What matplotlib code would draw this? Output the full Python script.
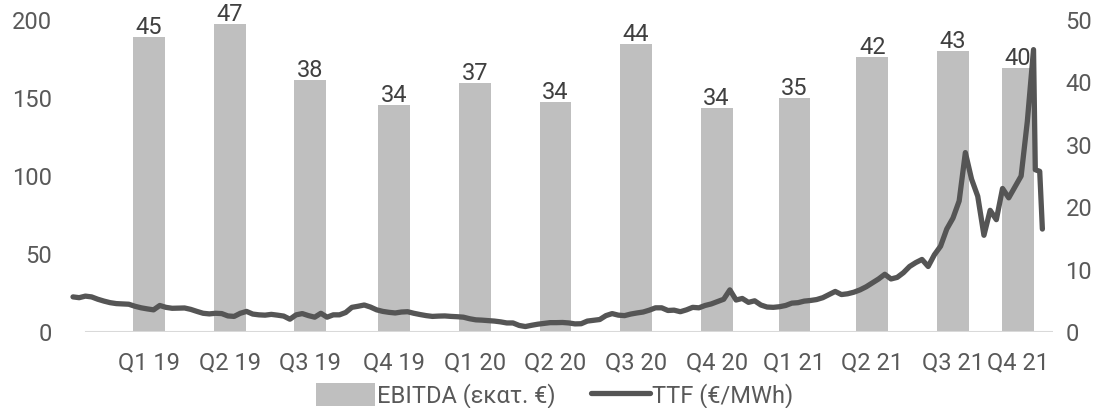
import matplotlib
matplotlib.use("Agg")
import matplotlib.pyplot as plt
import numpy as np
import pandas as pd

plt.rcParams['font.family'] = ['Roboto', 'DejaVu Sans']

# EBITDA per quarter (bars, right axis) and labels shown above the bars
quarters = ['Q1 19', 'Q2 19', 'Q3 19', 'Q4 19', 'Q1 20', 'Q2 20',
            'Q3 20', 'Q4 20', 'Q1 21', 'Q2 21', 'Q3 21', 'Q4 21']
quarter_dates = ['2019-03-28', '2019-06-27', '2019-09-26', '2019-12-30',
                 '2020-03-30', '2020-06-29', '2020-09-28', '2020-12-28',
                 '2021-03-26', '2021-06-22', '2021-09-21', '2021-12-03']
ebitda = [47.3, 49.3, 40.4, 36.4, 39.9, 36.9, 46.2, 35.9, 37.5, 44.0, 45.0, 42.3]
ebitda_labels = ['45', '47', '38', '34', '37', '34', '44', '34', '35', '42', '43', '40']

# TTF gas price, weekly (Tuesdays) from 2019-01-01, €/MWh
ttf_2019 = [22.5, 22, 23, 22.5, 21, 19.8, 18.8, 18.2, 18, 17.8, 16.5, 15.5, 14.8,
            14.2, 17, 15.8, 15.2, 15.3, 15.4, 14.5, 13.2, 12, 11.6, 12, 11.8, 10.3,
            10, 12, 13.2, 11.5, 11, 10.8, 11.3, 10.8, 10.2, 8.2, 11, 11.8, 10.5,
            9.5, 12, 9.5, 11, 11, 12.5, 15.8, 16.5, 17.3, 16, 14.2, 13.2, 12.6]
ttf_2020 = [12.2, 12.8, 13, 12, 11.2, 10.5, 10, 10.2, 10.3, 10, 9.8, 9.5, 8.5,
            7.8, 7.6, 7.3, 7, 6.5, 5.8, 5.8, 4.2, 3.5, 4.3, 5, 5.5, 6, 6, 6.1,
            5.8, 5.2, 5.3, 7, 7.5, 8, 10.5, 11.8, 10.8, 10.5, 11.5, 12.2, 12.8,
            14, 15.5, 15.5, 13.8, 14, 13, 14.2, 15.8, 15.5, 17, 18]
ttf_2021 = [19.5, 21, 27, 20.5, 21.5, 19, 20, 17.3, 16, 15.8, 16.2, 17, 18.5,
            18.8, 19.8, 20.2, 20.8, 22, 24, 26, 24, 24.5, 25.5, 27, 29, 31.5, 34,
            37, 34, 35, 38, 42, 44.5, 46.5, 42, 49.5, 55, 66, 73, 84, 115, 98, 87,
            62, 78, 72, 92, 86, 93, 100, 135, 181]
ttf_end_dates = ['2021-12-23', '2021-12-28', '2021-12-31']
ttf_end = [104, 103, 66]

ttf_vals = ttf_2019 + ttf_2020 + ttf_2021
ttf_dates = list(pd.date_range('2019-01-01', periods=len(ttf_vals), freq='7D'))
ttf_dates += list(pd.to_datetime(ttf_end_dates))
ttf_vals += ttf_end

bar_x = pd.to_datetime(quarter_dates)

text_col = '#595959'
bar_col = '#BFBFBF'
line_col = '#555555'

fig = plt.figure(figsize=(10.94, 4.08), dpi=100)
ax = fig.add_axes([73 / 1094, 76 / 408, (1053 - 73) / 1094, 312 / 408])
ax2 = ax.twinx()

# bars on right axis
bars = ax2.bar(bar_x, ebitda, width=36, color=bar_col, label='EBITDA (εκατ. €)')
for b, lab in zip(bars, ebitda_labels):
    ax2.text(b.get_x() + b.get_width() / 2, b.get_height() - 0.3, lab,
             ha='center', va='bottom', fontsize=17, color='#404040')
ax2.set_ylim(0, 50)
ax2.set_yticks([0, 10, 20, 30, 40, 50])

# line on left axis, drawn above the bars
ln, = ax.plot(ttf_dates, ttf_vals, color=line_col, lw=3.8, solid_joinstyle='round',
              solid_capstyle='round', label='TTF (€/MWh)', clip_on=False)
ax.set_zorder(ax2.get_zorder() + 1)
ax.patch.set_visible(False)
ax.set_ylim(0, 200)
ax.set_yticks([0, 50, 100, 150, 200])

start = pd.Timestamp('2019-01-01')
ax.set_xlim(start, start + pd.Timedelta(days=1107))
ax.set_xticks(bar_x)
ax.set_xticklabels(quarters)
ax.axhline(0, xmin=14.6 / 1107, xmax=1, color='#D9D9D9', lw=1.5, zorder=0)

for a in (ax, ax2):
    for s in a.spines.values():
        s.set_visible(False)
    a.tick_params(length=0, labelsize=17, labelcolor=text_col)
ax.tick_params(axis='y', pad=15)
ax.tick_params(axis='x', pad=14)
ax2.tick_params(axis='y', pad=9)

fig.legend([bars, ln], ['EBITDA (εκατ. €)', 'TTF (€/MWh)'], loc='center',
           bbox_to_anchor=(0.507, 0.03), ncol=2, frameon=False, fontsize=17,
           labelcolor=text_col, handlelength=2.5, handleheight=1.1,
           handletextpad=0.1, columnspacing=1.5)

fig.savefig('out.png', dpi=100)
